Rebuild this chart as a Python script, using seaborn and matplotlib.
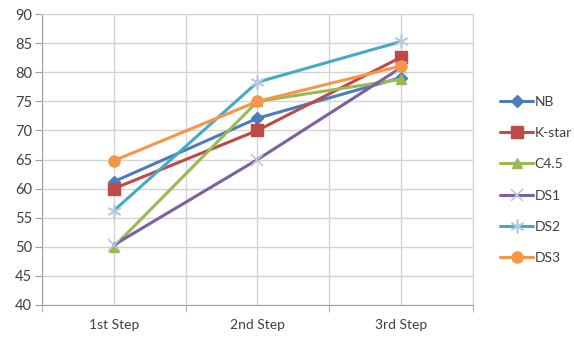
import matplotlib
matplotlib.use("Agg")
import matplotlib.pyplot as plt
import seaborn as sns
import pandas as pd

steps = ["1st Step", "2nd Step", "3rd Step"]
nb = [61.2, 72.1, 79.1]
kstar = [60.0, 70.0, 82.6]
c45 = [50.0, 75.0, 78.8]
ds1 = [50.3, 65.0, 80.8]
ds2 = [56.2, 78.3, 85.3]
ds3 = [64.8, 75.0, 81.1]

series = {"NB": nb, "K-star": kstar, "C4.5": c45, "DS1": ds1, "DS2": ds2, "DS3": ds3}
colors = {"NB": "#4A7EBB", "K-star": "#BE4B48", "C4.5": "#98B954",
          "DS1": "#7D60A0", "DS2": "#46AAC5", "DS3": "#F79646"}
markers = {"NB": "D", "K-star": "s", "C4.5": "^", "DS1": "x", "DS2": (6, 2, 0), "DS3": "o"}
sizes = {"NB": 6, "K-star": 8, "C4.5": 7, "DS1": 8, "DS2": 10, "DS3": 8}

rows = []
for name, vals in series.items():
    for i, v in enumerate(vals):
        rows.append({"step": i, "value": v, "model": name})
df = pd.DataFrame(rows)

sns.set_style("white")
plt.rcParams['font.family'] = ['Lato', 'DejaVu Sans']

fig = plt.figure(figsize=(5.74, 3.45), dpi=100)
ax = fig.add_axes([0.073, 0.116, 0.751, 0.843])

for name in series:
    sub = df[df["model"] == name]
    sns.lineplot(data=sub, x="step", y="value", ax=ax, color=colors[name],
                 marker=markers[name], markersize=sizes[name], linewidth=2.2,
                 markeredgecolor=colors[name] if name not in ("DS1", "DS2") else "#b9c9e0",
                 markeredgewidth=1 if name not in ("DS1", "DS2") else 1.2,
                 label=name)

ax.set_xlim(-0.5, 2.5)
ax.set_ylim(40, 90)
ax.set_yticks(range(40, 91, 5))
ax.set_xticks([0, 1, 2])
ax.set_xticklabels(steps)
ax.set_xticks([-0.5, 0.5, 1.5, 2.5], minor=True)
ax.grid(True, which="both", color="#d4d4d4", linewidth=1)
ax.set_axisbelow(True)
ax.set_xlabel("")
ax.set_ylabel("")

for side in ["top", "right"]:
    ax.spines[side].set_color("#d4d4d4")
for side in ["left", "bottom"]:
    ax.spines[side].set_color("#a0a0a0")
ax.tick_params(axis="y", which="major", length=5, color="#a0a0a0", labelsize=10.5,
               labelcolor="#404040", left=True, pad=2)
ax.tick_params(axis="x", which="major", length=0, labelsize=10, labelcolor="#404040", pad=10)
ax.tick_params(axis="x", which="minor", length=5, color="#a0a0a0", bottom=True)

leg = ax.legend(loc="center left", bbox_to_anchor=(1.05, 0.43), frameon=False,
                fontsize=10, handlelength=2.4, handletextpad=0.1, labelspacing=1.38,
                borderaxespad=0)
for t in leg.get_texts():
    t.set_color("#404040")

fig.savefig("out.png", dpi=100)
